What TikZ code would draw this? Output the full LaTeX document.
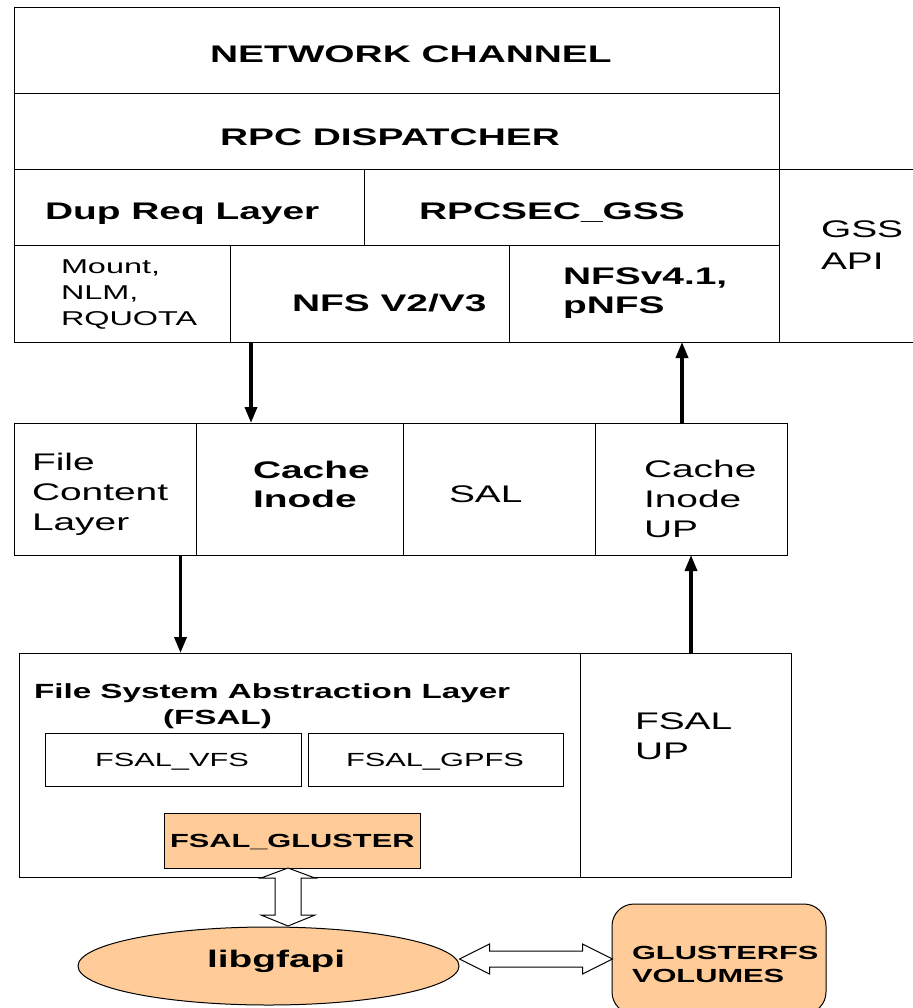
\documentclass[tikz,border=0pt]{standalone}
\usepackage{fontspec}
\setmainfont{Liberation Sans}[FakeStretch=1.62]
\usepackage{tikz}
\usetikzlibrary{arrows.meta,shapes.geometric,calc}
\definecolor{glusterorange}{RGB}{255,204,153}
\newcommand{\bigfont}{\fontsize{24}{30}\selectfont}
\newcommand{\midfont}{\fontsize{20}{26}\selectfont}
\newcommand{\smallfont}{\fontsize{19}{23}\selectfont}

\begin{document}
\begin{tikzpicture}[x=1pt,y=-1pt,line width=1pt]
    \tikzstyle{cell}=[draw,inner sep=0pt,outer sep=0pt]
    \tikzstyle{orange cell}=[cell,fill=glusterorange]
    \tikzstyle{txt}=[inner sep=0pt,outer sep=0pt,anchor=base west,align=left]
    \tikzstyle{flow}=[line width=3.5pt,-{Triangle[length=16pt,width=12pt]}]
    \tikzstyle{hollow}=[draw,fill=white,line width=1pt,line join=miter]

    \useasboundingbox (0,0) rectangle (912,1008);

    % Protocol layers
    \node[cell,minimum width=764.5,minimum height=86] (net) at (396.75,51) {};
    \node[cell,minimum width=764.5,minimum height=76] (rpc) at (396.75,132) {};
    \node[cell,minimum width=350,minimum height=75] (dup) at (189.5,207.5) {};
    \node[cell,minimum width=414.5,minimum height=75] (sec) at (571.75,207.5) {};
    \node[cell,minimum width=215.5,minimum height=97] (mnt) at (122.25,293.5) {};
    \node[cell,minimum width=279,minimum height=97] (nfs3) at (369.5,293.5) {};
    \node[cell,minimum width=270,minimum height=97] (nfs4) at (644,293.5) {};
    \node[cell,minimum width=151,minimum height=172] (gss) at (854.5,256) {};

    % (multi-line texts sit on the baseline of their last line)
    \node[txt,font=\bigfont\bfseries] (net-t) at (210,63) {NETWORK CHANNEL};
    \node[txt,font=\bigfont\bfseries] (rpc-t) at (220,146) {RPC DISPATCHER};
    \node[txt,font=\bigfont\bfseries] (dup-t) at (45,220) {Dup Req Layer};
    \node[txt,font=\bigfont\bfseries] (sec-t) at (419,220) {RPCSEC\_GSS};
    \node[txt,font=\midfont] (mnt-t) at (61,325) {Mount,\\NLM,\\RQUOTA};
    \node[txt,font=\bigfont\bfseries] (nfs3-t) at (292,311) {NFS V2/V3};
    \node[txt,font=\fontsize{24}{29}\selectfont\bfseries] (nfs4-t) at (563,313) {NFSv4.1,\\pNFS};
    \node[txt,font=\fontsize{24}{32}\selectfont] (gss-t) at (821,269) {GSS\\API};

    % Cache inode layer
    \node[cell,minimum width=182,minimum height=132] (fcl) at (105.5,489) {};
    \node[cell,minimum width=207,minimum height=132] (ci) at (300,489) {};
    \node[cell,minimum width=191.5,minimum height=132] (sal) at (499.25,489) {};
    \node[cell,minimum width=192,minimum height=132] (ciup) at (691,489) {};

    \node[txt,font=\bigfont] (fcl-t) at (32,530) {File\\Content\\Layer};
    \node[txt,font=\fontsize{24}{29}\selectfont\bfseries] (ci-t) at (253,507) {Cache\\Inode};
    \node[txt,font=\bigfont] (sal-t) at (449,502) {SAL};
    \node[txt,font=\bigfont] (ciup-t) at (644,537) {Cache\\Inode\\UP};

    % FSAL layer
    \node[cell,minimum width=561,minimum height=224] (fsal) at (299.5,765) {};
    \node[cell,minimum width=211,minimum height=224] (fup) at (685.5,765) {};
    \node[cell,minimum width=256,minimum height=53] (vfs) at (173,759.5) {};
    \node[cell,minimum width=255,minimum height=53] (gpfs) at (435.5,759.5) {};
    \node[orange cell,minimum width=256,minimum height=55] (glu) at (292,840.5) {};

    \node[txt,font=\fontsize{20.5}{27}\selectfont\bfseries] (fsal-t) at (34,698) {File System Abstraction Layer};
    \node[txt,font=\fontsize{20.5}{27}\selectfont\bfseries] (fsal-s) at (163,724) {(FSAL)};
    \node[txt,font=\smallfont] (vfs-t) at (95,766) {FSAL\_VFS};
    \node[txt,font=\smallfont] (gpfs-t) at (346,766) {FSAL\_GPFS};
    \node[txt,font=\smallfont\bfseries] (glu-t) at (170,847) {FSAL\_GLUSTER};
    \node[txt,font=\bigfont] (fup-t) at (635,759) {FSAL\\UP};

    % Gluster side
    \node[ellipse,draw,fill=glusterorange,inner sep=0pt,minimum width=381,minimum height=78] (lib) at (268.5,966) {};
    \node[orange cell,rounded corners=22pt,minimum width=214,minimum height=110] (vol) at (719,959) {};
    \node[txt,font=\bigfont\bfseries] (lib-t) at (207,967) {libgfapi};
    \node[txt,font=\smallfont\bfseries] (vol-t) at (632,982) {GLUSTERFS\\VOLUMES};

    % Request and upcall paths
    \draw[flow] ([xshift=21]nfs3.south west) -- ([xshift=21]nfs3.south west |- ci.north);
    \draw[flow] ([xshift=-9]ciup.north) -- ([xshift=-9]ciup.north |- nfs4.south);
    \draw[flow] ([xshift=-16]fcl.south east) -- ([xshift=-16]fcl.south east |- fsal.north);
    \draw[flow] (ciup.south |- fup.north) -- (ciup.south);

    % Hollow double arrows
    \draw[hollow] ([xshift=-4]glu.south) -- ++(27,10) -- ++(-14,0) -- ++(0,37) -- ++(14,0)
        -- ++(-27,11) -- ++(-27,-11) -- ++(14,0) -- ++(0,-37) -- ++(-14,0) -- cycle;
    \draw[hollow] (lib.east |- vol.west) -- ++(30,-15) -- ++(0,7) -- ++(93,0) -- ++(0,-7)
        -- ++(30,15) -- ++(-30,15) -- ++(0,-7) -- ++(-93,0) -- ++(0,7) -- cycle;
\end{tikzpicture}
\end{document}
